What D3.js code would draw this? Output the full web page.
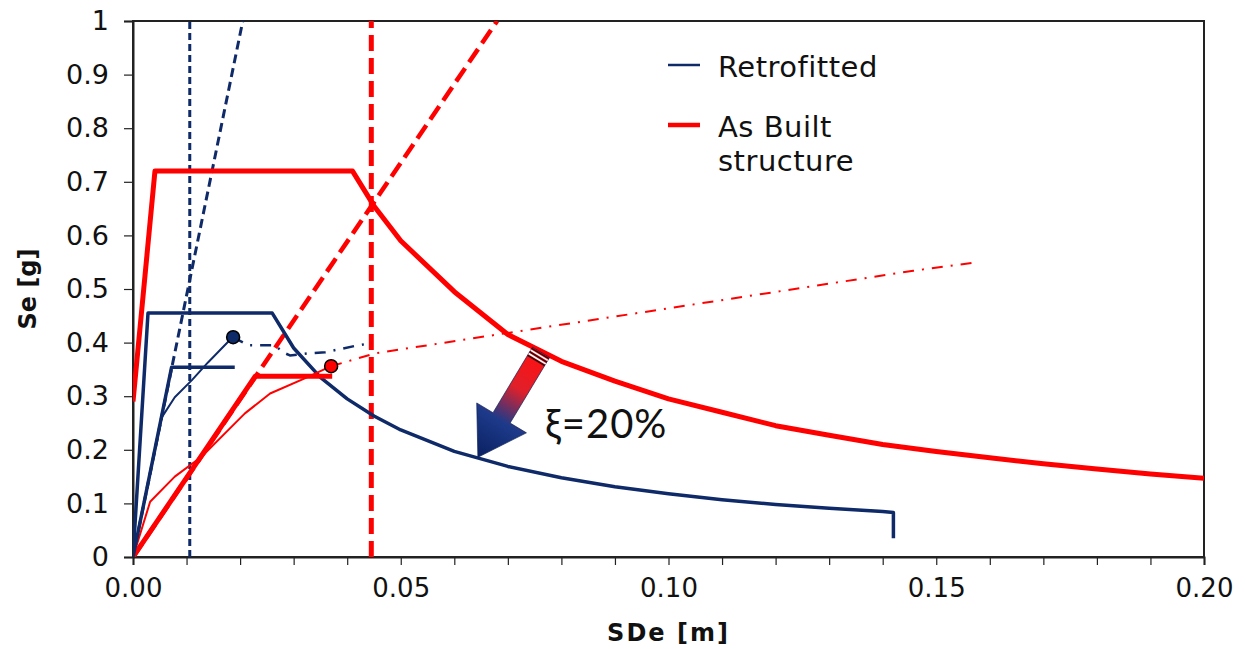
<!DOCTYPE html>
<html>
<head>
    <script src="https://cdn.jsdelivr.net/npm/d3@7"></script>
    <style>
        body { margin: 0; background-color: #ffffff; }
        text { font-family: 'DejaVu Sans', Verdana, sans-serif; }
    </style>
</head>
<body>
    <svg id="chart" width="1246" height="649"></svg>
    <script>
        // x = SDe [m], y = Se [g]
        var xTicks = [0, 0.05, 0.10, 0.15, 0.20];
        var xTickLabels = ["0.00", "0.05", "0.10", "0.15", "0.20"];
        var xMinorTicks = d3.range(0, 21).map(function (i) { return i / 100; });
        var yTicks = [0, 0.1, 0.2, 0.3, 0.4, 0.5, 0.6, 0.7, 0.8, 0.9, 1];
        var yTickLabels = ["0", "0.1", "0.2", "0.3", "0.4", "0.5", "0.6", "0.7", "0.8", "0.9", "1"];

        // as built: elastic demand spectrum
        var asBuiltSpectrum = [[0, 0.29], [0.0041, 0.72], [0.041, 0.72], [0.045, 0.655], [0.05, 0.59],
            [0.06, 0.495], [0.07, 0.415], [0.08, 0.365], [0.09, 0.328], [0.10, 0.295], [0.11, 0.27],
            [0.12, 0.245], [0.13, 0.227], [0.14, 0.21], [0.15, 0.197], [0.16, 0.185], [0.17, 0.174],
            [0.18, 0.164], [0.19, 0.155], [0.20, 0.147]];
        // retrofitted: reduced spectrum (xi = 20%)
        var retroSpectrum = [[0, 0], [0.0028, 0.455], [0.026, 0.455], [0.03, 0.39], [0.035, 0.335],
            [0.04, 0.295], [0.045, 0.263], [0.05, 0.237], [0.06, 0.197], [0.07, 0.169], [0.08, 0.148],
            [0.09, 0.131], [0.10, 0.118], [0.11, 0.107], [0.12, 0.098], [0.13, 0.091], [0.14, 0.085],
            [0.142, 0.083], [0.142, 0.035]];

        // capacity curves
        var asBuiltBilinear = [[0, 0], [0.0228, 0.337], [0.0372, 0.337]];
        var retroBilinear = [[0, 0], [0.0072, 0.354], [0.019, 0.354]];
        var asBuiltCapacity = [[0, 0], [0.0032, 0.103], [0.0078, 0.15], [0.0128, 0.187], [0.0209, 0.268],
            [0.0256, 0.305], [0.0325, 0.335], [0.037, 0.356]];
        var retroCapacity = [[0, 0], [0.0054, 0.261], [0.0078, 0.298], [0.011, 0.33], [0.014, 0.363],
            [0.0184, 0.408]];

        // performance points
        var asBuiltPoint = [0.037, 0.356];
        var retroPoint = [0.0187, 0.41];

        // dash-dot loci
        var asBuiltLocus = [[0.037, 0.356], [0.0452, 0.38], [0.1457, 0.534], [0.157, 0.549]];
        var retroLocus = [[0.0187, 0.41], [0.0215, 0.395], [0.0265, 0.395], [0.028, 0.382], [0.0293, 0.376],
            [0.0327, 0.38], [0.0359, 0.382], [0.042, 0.395], [0.0446, 0.399]];

        // dashed reference lines
        var asBuiltVertical = [[0.0445, 0], [0.0445, 1]];
        var retroVertical = [[0.0106, 0], [0.0106, 1]];
        var asBuiltDiagonal = [[0, 0], [0.068, 1]];
        var retroDiagonal = [[0, 0], [0.0205, 1]];

        // arrow (tail, tip) in data units
        var arrowEnds = [[0.0762, 0.382], [0.0644, 0.186]];

        var navy = "#0f2a68";
        var red = "#ff0000";

        var canvas = d3.select("#chart");
        var plotLeft = 133, plotRight = 1204, plotTop = 21, plotBottom = 557;

        var xScale = d3.scaleLinear().domain([0, 0.2]).range([plotLeft, plotRight]);
        var yScale = d3.scaleLinear().domain([0, 1]).range([plotBottom, plotTop]);

        var line = d3.line()
            .x(function (d) { return xScale(d[0]); })
            .y(function (d) { return yScale(d[1]); });

        var defs = canvas.append("defs");
        defs.append("clipPath").attr("id", "plotClip")
            .append("rect")
            .attr("x", plotLeft).attr("y", plotTop)
            .attr("width", plotRight - plotLeft).attr("height", plotBottom - plotTop);

        var grad = defs.append("linearGradient")
            .attr("id", "arrowGrad")
            .attr("x1", "0%").attr("y1", "0%").attr("x2", "100%").attr("y2", "0%");
        grad.append("stop").attr("offset", "0%").attr("stop-color", "#ff1010");
        grad.append("stop").attr("offset", "35%").attr("stop-color", "#e0202a");
        grad.append("stop").attr("offset", "65%").attr("stop-color", "#1d3a8a");
        grad.append("stop").attr("offset", "100%").attr("stop-color", "#0a2060");

        // frame
        canvas.append("rect")
            .attr("x", plotLeft).attr("y", plotTop)
            .attr("width", plotRight - plotLeft).attr("height", plotBottom - plotTop)
            .attr("fill", "none")
            .attr("stroke", "#222")
            .attr("stroke-width", 2);

        // x axis
        var xAxis = d3.axisBottom(xScale)
            .tickValues(xMinorTicks)
            .tickSize(8)
            .tickFormat(function (d) {
                var i = xTicks.findIndex(function (t) { return Math.abs(t - d) < 1e-9; });
                return i >= 0 ? xTickLabels[i] : "";
            });
        var gx = canvas.append("g")
            .attr("transform", "translate(0," + plotBottom + ")")
            .call(xAxis);
        gx.select(".domain").attr("stroke", "#222").attr("stroke-width", 2);
        gx.selectAll(".tick line").attr("stroke", "#222").attr("stroke-width", 1.2);
        gx.selectAll("text")
            .attr("y", 22)
            .style("font-size", "26px")
            .style("fill", "#111");

        // y axis
        var yAxis = d3.axisLeft(yScale)
            .tickValues(yTicks)
            .tickSize(9)
            .tickFormat(function (d, i) { return yTickLabels[i]; });
        var gy = canvas.append("g")
            .attr("transform", "translate(" + plotLeft + ",0)")
            .call(yAxis);
        gy.select(".domain").attr("stroke", "#222").attr("stroke-width", 2);
        gy.selectAll(".tick line").attr("stroke", "#222").attr("stroke-width", 1.2);
        gy.selectAll("text")
            .attr("x", -24)
            .style("font-size", "27px")
            .style("fill", "#111");

        canvas.append("text")
            .attr("transform", "translate(36," + ((plotTop + plotBottom) / 2) + ") rotate(-90)")
            .attr("text-anchor", "middle")
            .style("font-size", "24px")
            .style("font-weight", "bold")
            .style("fill", "#111")
            .text("Se [g]");

        canvas.append("text")
            .attr("x", (plotLeft + plotRight) / 2)
            .attr("y", 641)
            .attr("text-anchor", "middle")
            .style("font-size", "24px")
            .style("font-weight", "bold")
            .style("letter-spacing", "2px")
            .style("fill", "#111")
            .text("SDe [m]");

        var plot = canvas.append("g").attr("clip-path", "url(#plotClip)");

        function drawLine(data, color, width, dash) {
            plot.append("path")
                .datum(data)
                .attr("fill", "none")
                .attr("stroke", color)
                .attr("stroke-width", width)
                .attr("stroke-linejoin", "round")
                .attr("stroke-dasharray", dash || null)
                .attr("d", line);
        }

        // dashed reference lines
        drawLine(retroVertical, navy, 3, "7,4");
        drawLine(retroDiagonal, navy, 3, "9,5");
        drawLine(asBuiltVertical, red, 5, "16,7");
        drawLine(asBuiltDiagonal, red, 4.5, "16,7");

        // loci
        drawLine(retroLocus, navy, 2.5, "11,8,2,8");
        drawLine(asBuiltLocus, red, 2, "11,8,2,8");

        // spectra
        drawLine(asBuiltSpectrum, red, 5);
        drawLine(retroSpectrum, navy, 3.5);

        // capacity curves
        drawLine(asBuiltCapacity, red, 2);
        drawLine(retroCapacity, navy, 2);
        drawLine(asBuiltBilinear, red, 5);
        drawLine(retroBilinear, navy, 3.5);

        // performance points
        plot.append("circle")
            .attr("cx", xScale(retroPoint[0])).attr("cy", yScale(retroPoint[1]))
            .attr("r", 6.5)
            .attr("fill", navy).attr("stroke", "#000").attr("stroke-width", 1.5);
        plot.append("circle")
            .attr("cx", xScale(asBuiltPoint[0])).attr("cy", yScale(asBuiltPoint[1]))
            .attr("r", 6.5)
            .attr("fill", red).attr("stroke", "#000").attr("stroke-width", 1.5);

        // arrow
        var ax0 = xScale(arrowEnds[0][0]), ay0 = yScale(arrowEnds[0][1]);
        var ax1 = xScale(arrowEnds[1][0]), ay1 = yScale(arrowEnds[1][1]);
        var len = Math.sqrt((ax1 - ax0) * (ax1 - ax0) + (ay1 - ay0) * (ay1 - ay0));
        var ang = Math.atan2(ay1 - ay0, ax1 - ax0) * 180 / Math.PI;
        var arrow = canvas.append("g")
            .attr("transform", "translate(" + ax0 + "," + ay0 + ") rotate(" + ang + ")");
        var headStart = len - 46;
        arrow.append("path")
            .attr("d", "M0,-10 L" + headStart + ",-10 L" + headStart + ",-29 L" + len + ",0 L" +
                headStart + ",29 L" + headStart + ",10 L0,10 Z")
            .attr("fill", "url(#arrowGrad)")
            .attr("stroke", "#0a1f55")
            .attr("stroke-width", 0.6);
        [1.5, 5.5, 9.5].forEach(function (p) {
            arrow.append("line")
                .attr("x1", p).attr("y1", -10).attr("x2", p).attr("y2", 10)
                .attr("stroke", "#3a0a10").attr("stroke-width", 1.6);
        });
        [3.5, 7.5].forEach(function (p) {
            arrow.append("line")
                .attr("x1", p).attr("y1", -10).attr("x2", p).attr("y2", 10)
                .attr("stroke", "#ffffff").attr("stroke-width", 1.6);
        });

        canvas.append("text")
            .attr("x", 545)
            .attr("y", 438)
            .style("font-family", "Lato, 'Open Sans', sans-serif")
            .style("font-size", "40px")
            .style("letter-spacing", "1px")
            .style("fill", "#111")
            .text("ξ=20%");

        // legend
        var legend = canvas.append("g");
        legend.append("line")
            .attr("x1", 668).attr("x2", 700).attr("y1", 65).attr("y2", 65)
            .attr("stroke", navy).attr("stroke-width", 2.5);
        legend.append("text")
            .attr("x", 718).attr("y", 77)
            .style("font-size", "29px").style("letter-spacing", "0.5px").style("fill", "#111")
            .text("Retrofitted");
        legend.append("line")
            .attr("x1", 668).attr("x2", 700).attr("y1", 125).attr("y2", 125)
            .attr("stroke", red).attr("stroke-width", 4.5);
        legend.append("text")
            .attr("x", 718).attr("y", 137)
            .style("font-size", "29px").style("letter-spacing", "0.5px").style("fill", "#111")
            .text("As Built");
        legend.append("text")
            .attr("x", 718).attr("y", 171)
            .style("font-size", "29px").style("letter-spacing", "0.5px").style("fill", "#111")
            .text("structure");
    </script>
</body>
</html>
